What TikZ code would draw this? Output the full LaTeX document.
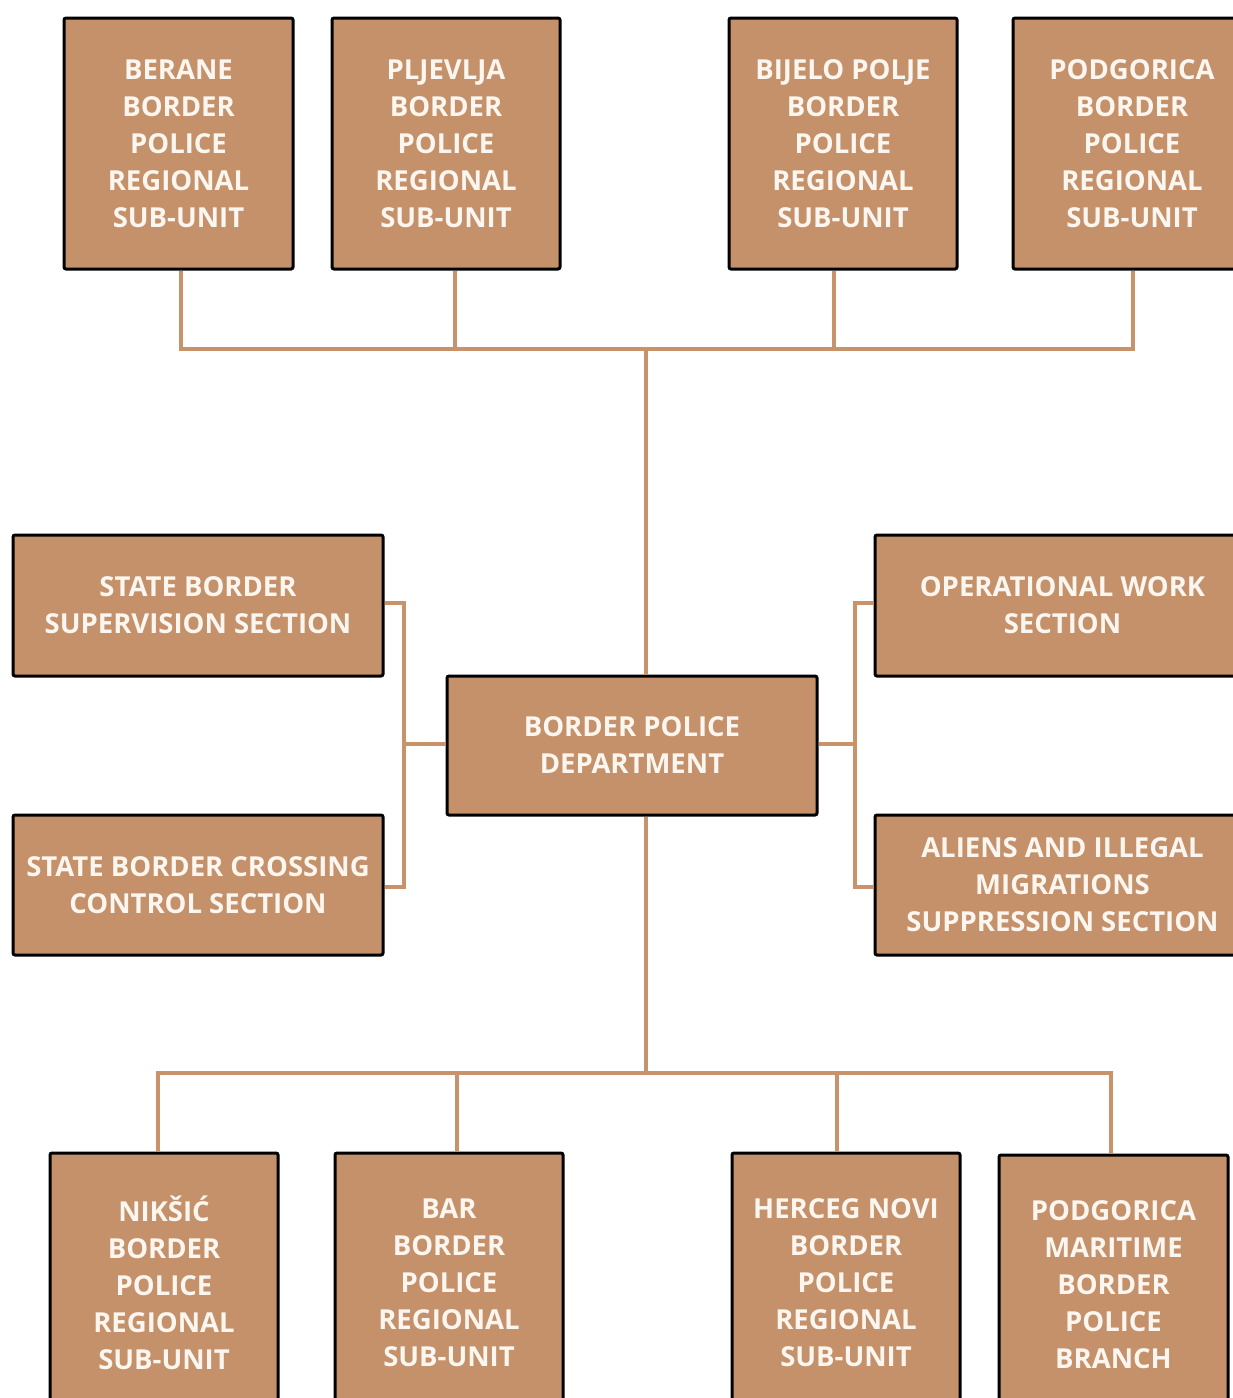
\documentclass[tikz,border=0pt]{standalone}
\usepackage{fontspec}
\setmainfont{Open Sans}
\definecolor{boxfill}{HTML}{C4916A}
\definecolor{linec}{HTML}{C8926A}
\definecolor{txt}{HTML}{FBF6EF}
\begin{document}
\begin{tikzpicture}[x=1pt,y=-1pt,
  box/.style={draw=black, line width=3pt, fill=boxfill, rounded corners=2pt,
    inner sep=0pt, align=center, text=txt,
    font=\fontsize{27.5}{37}\selectfont\bfseries},
  conn/.style={draw=linec, line width=4pt}]
\useasboundingbox[fill=white] (0,0) rectangle (1233,1398);
% top row
\node[box, minimum width=229pt, minimum height=251pt] (berane) at (178.5,143.5) {BERANE\\BORDER\\POLICE\\REGIONAL\\SUB-UNIT};
\node[box, minimum width=228pt, minimum height=251pt] (pljevlja) at (446,143.5) {PLJEVLJA\\BORDER\\POLICE\\REGIONAL\\SUB-UNIT};
\node[box, minimum width=228pt, minimum height=251pt] (bijelo) at (843,143.5) {BIJELO POLJE\\BORDER\\POLICE\\REGIONAL\\SUB-UNIT};
\node[box, minimum width=238pt, minimum height=251pt] (podtop) at (1132,143.5) {PODGORICA\\BORDER\\POLICE\\REGIONAL\\SUB-UNIT};
% middle
\node[box, minimum width=370pt, minimum height=141pt] (supervision) at (198,605.5) {STATE BORDER\\SUPERVISION SECTION};
\node[box, minimum width=370pt, minimum height=140pt] (crossing) at (198,885) {STATE BORDER CROSSING\\CONTROL SECTION};
\node[box, minimum width=370pt, minimum height=139pt] (dept) at (632,745.5) {BORDER POLICE\\DEPARTMENT};
\node[box, minimum width=375pt, minimum height=141pt] (operational) at (1062.5,605.5) {OPERATIONAL WORK\\SECTION};
\node[box, minimum width=375pt, minimum height=140pt] (aliens) at (1062.5,885) {ALIENS AND ILLEGAL\\MIGRATIONS\\SUPPRESSION SECTION};
% bottom row
\node[box, minimum width=228pt, minimum height=260pt] (niksic) at (164,1283) {NIKŠIĆ\\BORDER\\POLICE\\REGIONAL\\SUB-UNIT};
\node[box, minimum width=228pt, minimum height=260pt] (bar) at (449,1283) {BAR\\BORDER\\POLICE\\REGIONAL\\SUB-UNIT};
\node[box, minimum width=228pt, minimum height=260pt] (herceg) at (846,1283) {HERCEG NOVI\\BORDER\\POLICE\\REGIONAL\\SUB-UNIT};
\node[box, minimum width=229pt, minimum height=260pt] (maritime) at (1113.5,1285) {PODGORICA\\MARITIME\\BORDER\\POLICE\\BRANCH};
% bus coordinates
\coordinate (topbus) at (646,349);
\coordinate (botbus) at (646,1073);
\coordinate (leftbus) at (404,744);
\coordinate (rightbus) at (855,744);
% top connectors
\draw[conn] ([xshift=2.5pt]berane.south) |- (topbus);
\draw[conn] ([xshift=9pt]pljevlja.south) |- (topbus);
\draw[conn] ([xshift=-9pt]bijelo.south) |- (topbus);
\draw[conn] ([xshift=1pt]podtop.south) |- (topbus);
\draw[conn] (topbus) -- (topbus |- dept.north);
% bottom connectors
\draw[conn] ([xshift=-6pt]niksic.north) |- (botbus);
\draw[conn] ([xshift=8pt]bar.north) |- (botbus);
\draw[conn] ([xshift=-9pt]herceg.north) |- (botbus);
\draw[conn] ([xshift=-2.5pt]maritime.north) |- (botbus);
\draw[conn] (botbus) -- (botbus |- dept.south);
% left side
\draw[conn] (supervision.east |- 0,603) -| (leftbus);
\draw[conn] (crossing.east |- 0,887) -| (leftbus);
\draw[conn] (leftbus) -- (dept.west |- leftbus);
% right side
\draw[conn] (operational.west |- 0,603) -| (rightbus);
\draw[conn] (aliens.west |- 0,887) -| (rightbus);
\draw[conn] (rightbus) -- (dept.east |- rightbus);
\end{tikzpicture}
\end{document}
